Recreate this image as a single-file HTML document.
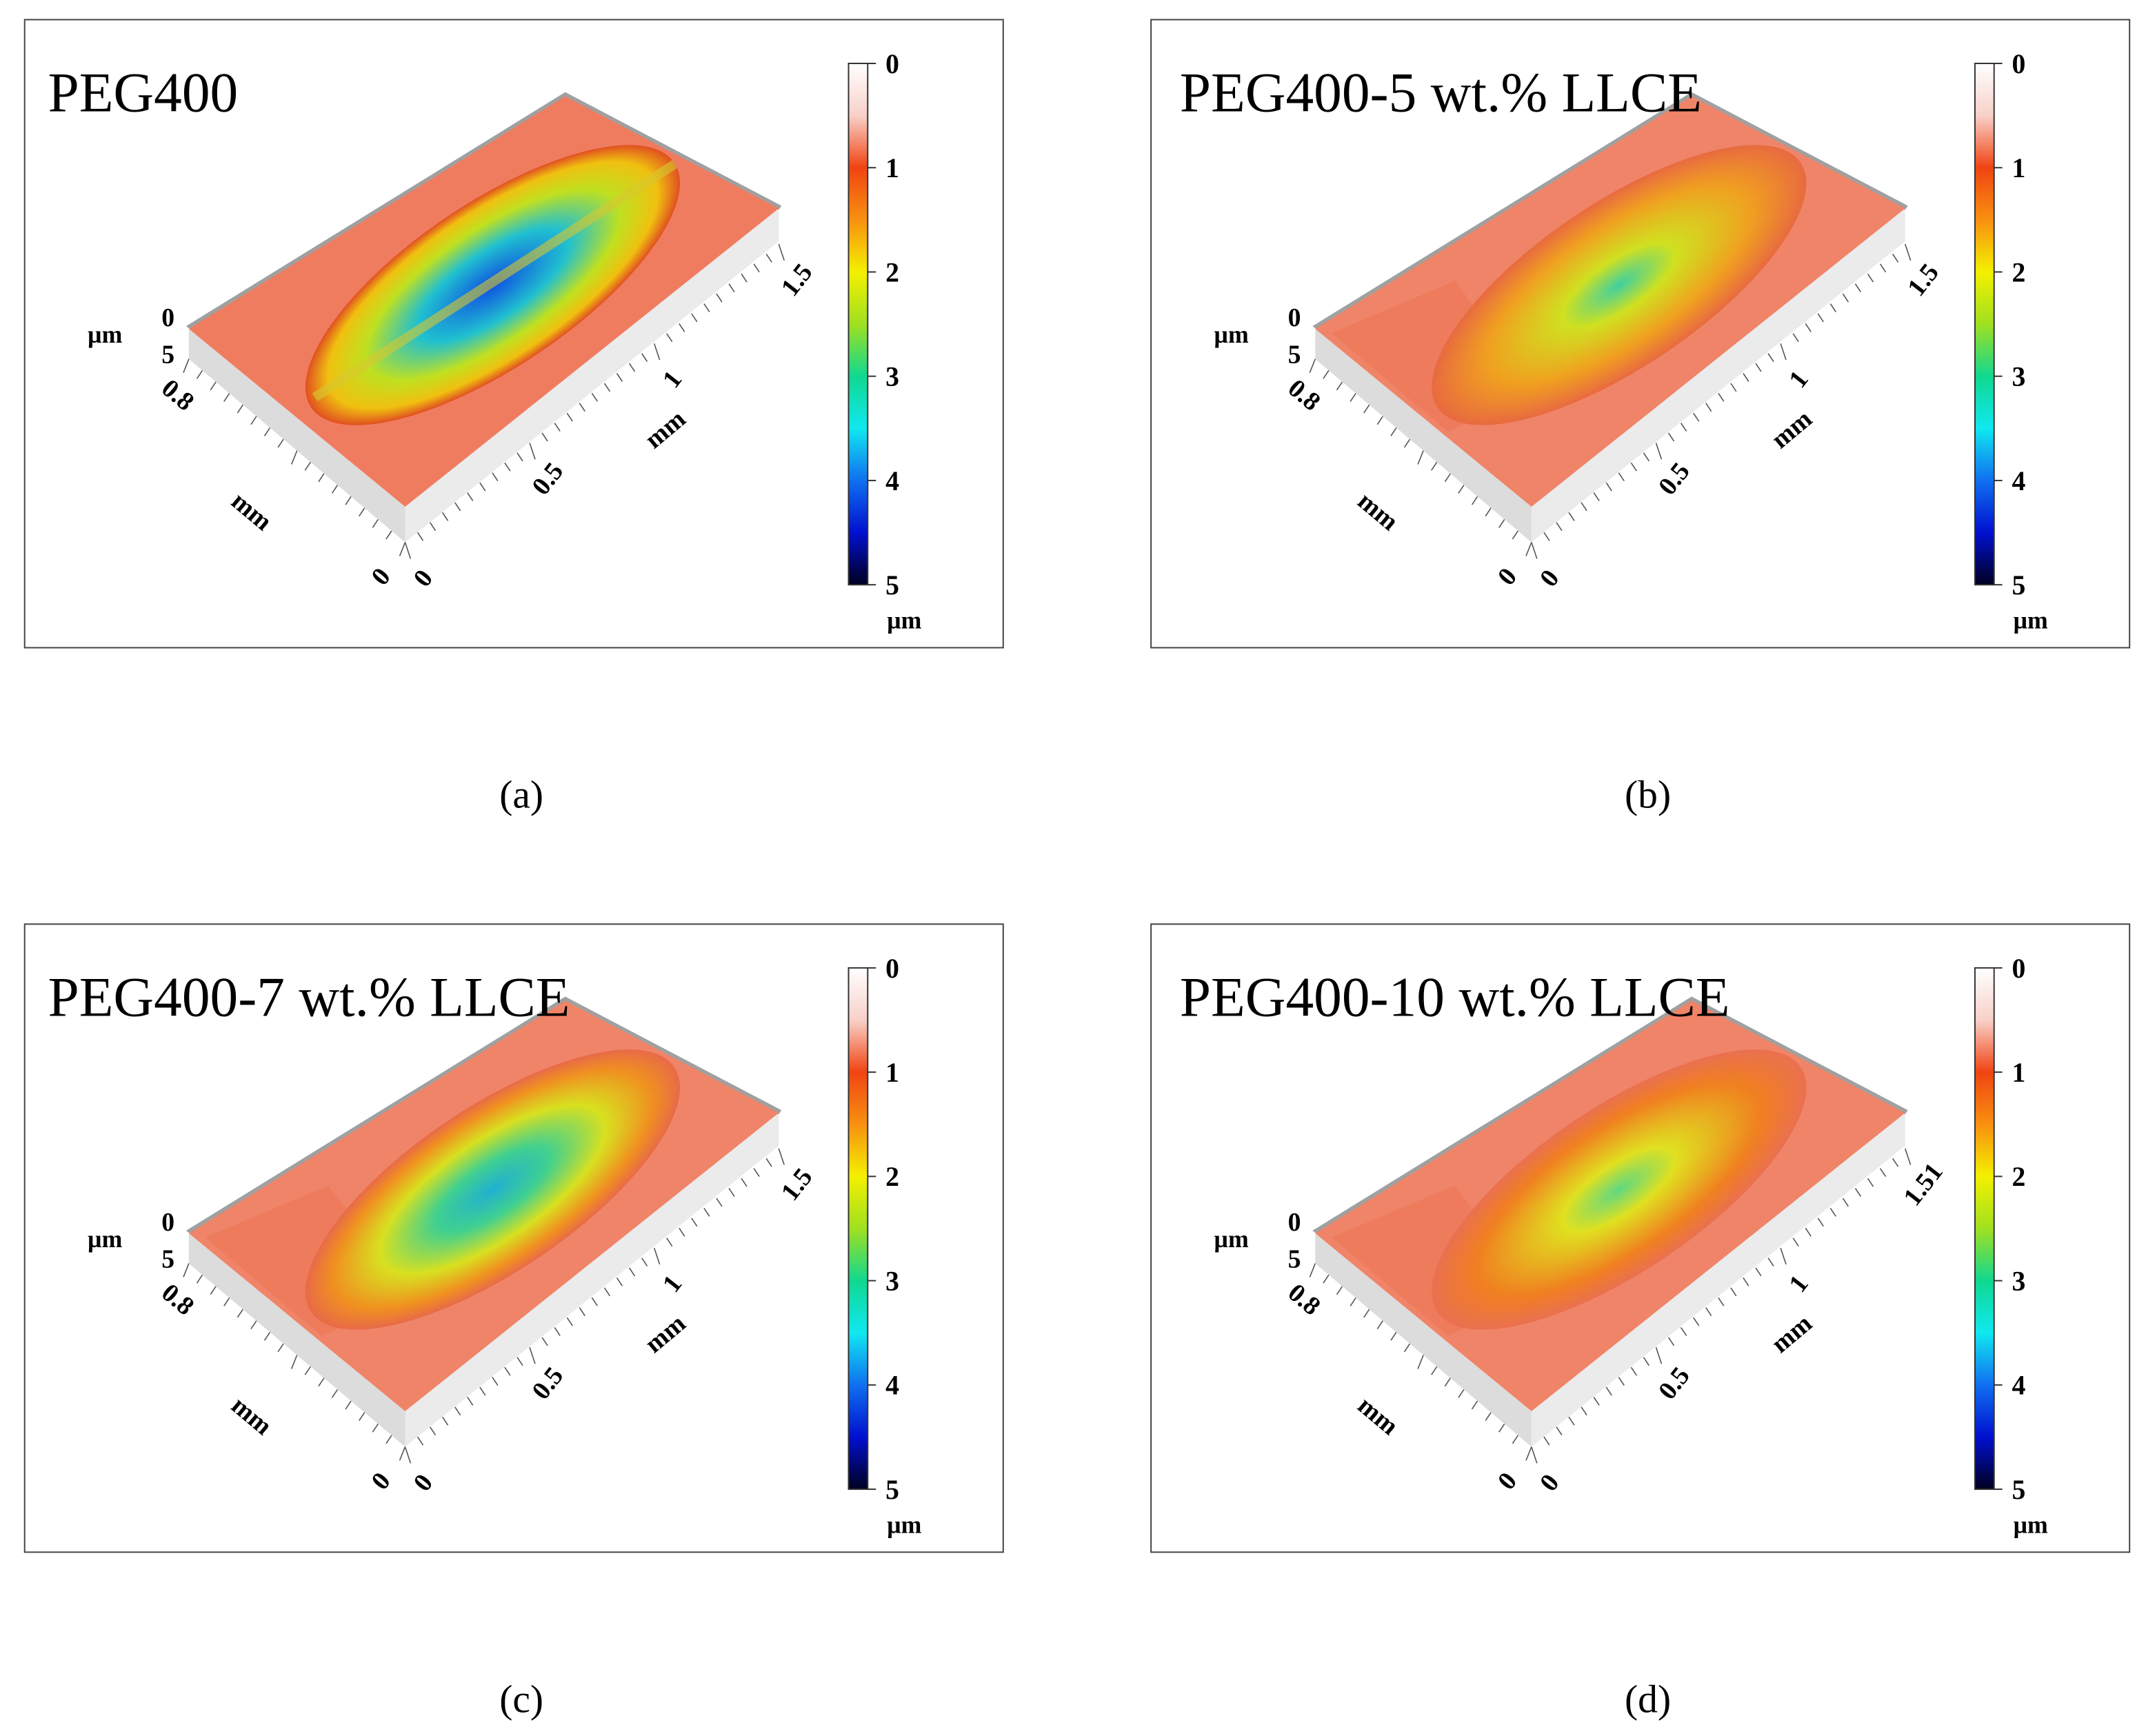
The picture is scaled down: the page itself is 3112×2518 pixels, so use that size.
<!DOCTYPE html>
<html><head><meta charset="utf-8"><style>
html,body{margin:0;padding:0;background:#fff}
svg{display:block}
text{font-family:"Liberation Serif",serif}
</style></head><body>
<svg id="fig" width="3112" height="2518" viewBox="0 0 1568 1268" xmlns="http://www.w3.org/2000/svg">
<defs>
<linearGradient id="cb" x1="0" y1="0" x2="0" y2="1">
<stop offset="0" stop-color="#ffffff"/><stop offset="0.1" stop-color="#f8d0c8"/>
<stop offset="0.2" stop-color="#f04412"/><stop offset="0.3" stop-color="#f89010"/>
<stop offset="0.4" stop-color="#f4f000"/><stop offset="0.5" stop-color="#a0e020"/>
<stop offset="0.6" stop-color="#10d890"/><stop offset="0.7" stop-color="#10e8f0"/>
<stop offset="0.8" stop-color="#1070f0"/><stop offset="0.9" stop-color="#0010d0"/>
<stop offset="1" stop-color="#000020"/></linearGradient>
<radialGradient id="wa"><stop offset="0" stop-color="#1050e0"/><stop offset="0.4" stop-color="#20c0d0"/><stop offset="0.68" stop-color="#c0e020"/><stop offset="0.88" stop-color="#f0c010"/><stop offset="1" stop-color="#e05020"/></radialGradient>
<radialGradient id="wb"><stop offset="0" stop-color="#40d0a0"/><stop offset="0.3" stop-color="#d0e020"/><stop offset="0.7" stop-color="#f0a020"/><stop offset="1" stop-color="#e86a40"/></radialGradient>
<radialGradient id="wc"><stop offset="0" stop-color="#20b0d0"/><stop offset="0.3" stop-color="#40d090"/><stop offset="0.6" stop-color="#d8e020"/><stop offset="0.85" stop-color="#f09020"/><stop offset="1" stop-color="#e86a48"/></radialGradient>
<radialGradient id="wd"><stop offset="0" stop-color="#60d880"/><stop offset="0.3" stop-color="#e0e020"/><stop offset="0.75" stop-color="#f08020"/><stop offset="1" stop-color="#ea7050"/></radialGradient>
<clipPath id="scarClip"><ellipse cx="360" cy="208" rx="160" ry="60" transform="rotate(-34 360 208)"/></clipPath>
</defs>
</svg>
<script>
const panelTitles=["PEG400","PEG400-5 wt.% LLCE","PEG400-7 wt.% LLCE","PEG400-10 wt.% LLCE"];
const captions=["(a)","(b)","(c)","(d)"];
const cbTicks=["0","1","2","3","4","5"];
const xLabels=["0","0.5","1","1.5"];
const xLabelsD=["0","0.5","1","1.51"];
const panelOrigins=[[0,0],[823,0],[0,661],[823,661]];
const wearFill=["wa","wb","wc","wd"];
const NS="http://www.w3.org/2000/svg";
const svg=document.getElementById('fig');
function mk(tag,attrs,parent,txt){const e=document.createElementNS(NS,tag);for(const k in attrs)e.setAttribute(k,attrs[k]);if(txt!==undefined)e.textContent=txt;parent.appendChild(e);return e;}
const cbScale=v=>46+v*(427-46)/5;
const xAxis=t=>[296+t*(569-296)/1.5,370+t*(152-370)/1.5];
panelOrigins.forEach((o,i)=>{
 const g=mk('g',{transform:`translate(${o[0]},${o[1]})`},svg);
 
 
 const fr=mk('rect',{x:18,y:14,width:715,height:459,fill:'#fff',stroke:'#444','stroke-width':1},g);
 
 const sl=mk('polygon',{points:'138,240 296,370 296,396 138,262',fill:'#dcdcdc'},g);
 
 const sr=mk('polygon',{points:'296,370 569,152 569,176 296,396',fill:'#ebebeb'},g);
 
 mk('polygon',{points:'136,238 413,67 571,150 569,153 413,72 140,241',fill:'#a0a0a0'},g);
 const top=mk('polygon',{points:'138,240 413,70 569,152 296,370',fill:i===0?'#f07c60':'#f08468'},g);
 
 if(i>0){mk('polygon',{points:'150,243 240,205 300,285 235,315',fill:'#e86a48',opacity:0.35},g);}
 const w=mk('ellipse',{cx:360,cy:208,rx:160,ry:60,fill:`url(#${wearFill[i]})`,transform:'rotate(-34 360 208)'},g);
 
 if(i===0){mk('path',{d:'M230,290 L500,115',stroke:'#d8c830','stroke-width':7,'clip-path':'url(#scarClip)',opacity:0.6},g);}
 for(let k=0;k<=30;k++){const t=k*0.05;const p=xAxis(t);mk('line',{x1:p[0],y1:p[1]+26,x2:p[0]+4,y2:p[1]+(k%10===0?38:32),stroke:'#555','stroke-width':0.8},g);}
 for(let k=0;k<=16;k++){const x=138+k*(158/16),y=262+k*(134/16);mk('line',{x1:x,y1:y,x2:x-4,y2:y+(k%8===0?10:6),stroke:'#555','stroke-width':0.8},g);}
 const xl=i===3?xLabelsD:xLabels;
 xl.forEach((l,j)=>{const p=xAxis(j*0.5);const t=mk('text',{x:p[0]+18,y:p[1]+56,'font-size':19,'font-weight':'bold',transform:`rotate(-52 ${p[0]+18} ${p[1]+56})`,'text-anchor':'middle'},g,l);
  });
 mk('text',{x:490,y:318,'font-size':19,'font-weight':'bold',transform:'rotate(-40 490 318)','text-anchor':'middle'},g,'mm');
 mk('text',{x:180,y:378,'font-size':19,'font-weight':'bold',transform:'rotate(40 180 378)','text-anchor':'middle'},g,'mm');
 mk('text',{x:283,y:425,'font-size':19,'font-weight':'bold',transform:'rotate(-50 283 425)','text-anchor':'middle'},g,'0');
 mk('text',{x:126,y:293,'font-size':19,'font-weight':'bold',transform:'rotate(40 126 293)','text-anchor':'middle'},g,'0.8');
 mk('text',{x:118,y:238,'font-size':19,'font-weight':'bold'},g,'0');
 mk('text',{x:118,y:265,'font-size':19,'font-weight':'bold'},g,'5');
 mk('text',{x:64,y:250,'font-size':18,'font-weight':'bold'},g,'µm');
 const cb=mk('rect',{x:620,y:46,width:14,height:381,fill:'url(#cb)',stroke:'#333','stroke-width':1},g);
 
 cbTicks.forEach(v=>{const y=cbScale(+v);mk('line',{x1:634,y1:y,x2:640,y2:y,stroke:'#333'},g);
  const t=mk('text',{x:647,y:y+7,'font-size':20,'font-weight':'bold'},g,v);
  });
 mk('text',{x:648,y:459,'font-size':18,'font-weight':'bold'},g,'µm');
 const tt=mk('text',{x:i%2===0?35:39,y:81,'font-size':41},g,panelTitles[i]);
 
 const c=mk('text',{x:381,y:590,'font-size':29,'text-anchor':'middle'},g,captions[i]);
 
});
</script>
</body></html>
